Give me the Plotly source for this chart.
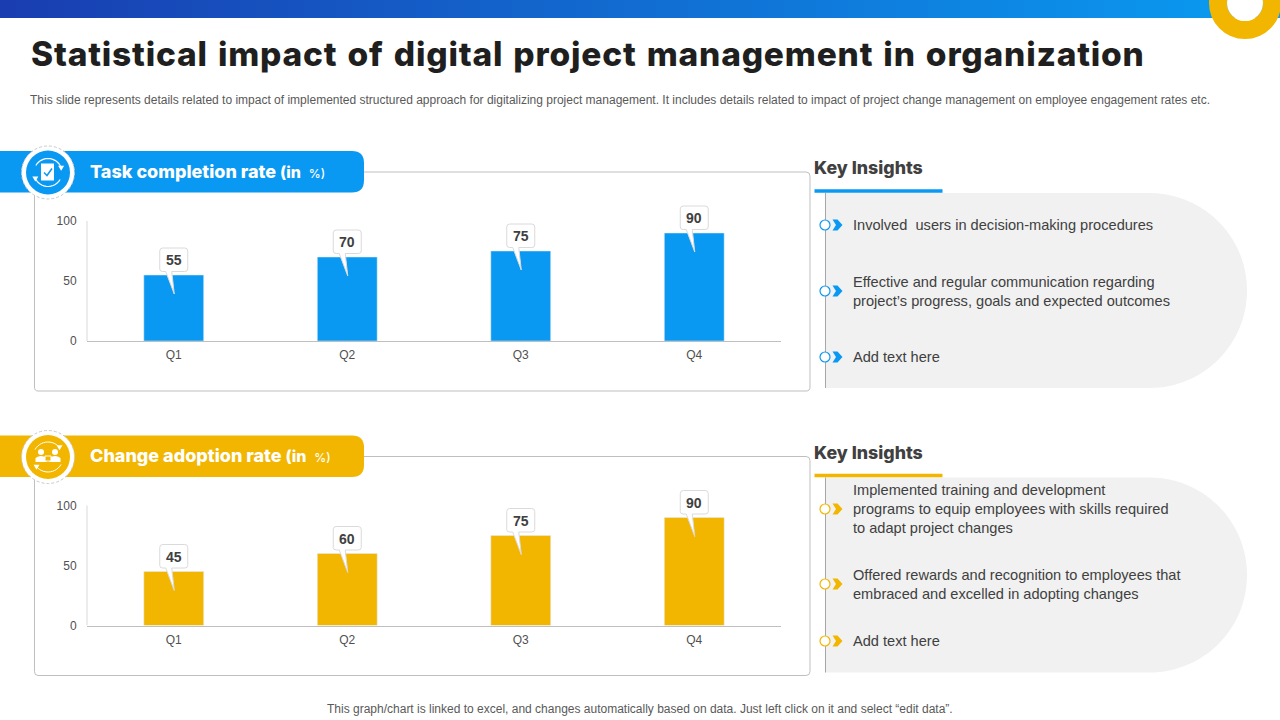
import numpy as np
import plotly.graph_objects as go

W, H = 1280, 720

quarters = ["Q1", "Q2", "Q3", "Q4"]
task_values = [55, 70, 75, 90]
adoption_values = [45, 60, 75, 90]
y_ticks = [0, 50, 100]

title = "Statistical impact of digital project management in organization"
subtitle = ("This slide represents details related to impact of implemented structured approach for digitalizing "
            "project management. It includes details related to impact of project change management on employee "
            "engagement rates etc.")
footer = "This graph/chart is linked to excel, and changes automatically based on data. Just left click on it and select “edit data”."
task_header = "Task completion rate"
adoption_header = "Change adoption rate"
insight_title = "Key Insights"
task_insights = [
    "Involved  users in decision-making procedures",
    "Effective and regular communication regarding<br>project’s progress, goals and expected outcomes",
    "Add text here",
]
adoption_insights = [
    "Implemented training and development<br>programs to equip employees with skills required<br>to adapt project changes",
    "Offered rewards and recognition to employees that<br>embraced and excelled in adopting changes",
    "Add text here",
]

BLUE = "#0A99F2"
GOLD = "#F2B600"
DARK = "#404040"
HEAD_FONT = "Inter"
BODY_FONT = "Liberation Sans"


def X(px):
    return px / W


def Y(py):
    return 1 - py / H


shapes = []
notes = []


def rect(x0, y0, x1, y1, fill, layer="below"):
    shapes.append(dict(type="rect", xref="paper", yref="paper", x0=X(x0), x1=X(x1), y0=Y(y0), y1=Y(y1),
                       fillcolor=fill, line_width=0, layer=layer))


def path(points_d, fill="rgba(0,0,0,0)", line=None, lw=1, layer="below", dash=None):
    out = []
    for p in points_d:
        if isinstance(p, str):
            out.append(p)
        else:
            out.append(f"{X(p[0]):.5f},{Y(p[1]):.5f}")
    ln = dict(color=line or "rgba(0,0,0,0)", width=lw if line else 0)
    if dash:
        ln["dash"] = dash
    shapes.append(dict(type="path", xref="paper", yref="paper", path=" ".join(out), fillcolor=fill,
                       line=ln, layer=layer))


def circle(cx, cy, r, fill="rgba(0,0,0,0)", line=None, lw=1, layer="below", dash=None):
    ln = dict(color=line or "rgba(0,0,0,0)", width=lw if line else 0)
    if dash:
        ln["dash"] = dash
    shapes.append(dict(type="circle", xref="paper", yref="paper", x0=X(cx - r), x1=X(cx + r), y0=Y(cy + r),
                       y1=Y(cy - r), fillcolor=fill, line=ln, layer=layer))


def text(px, py, s, size, color=DARK, font=BODY_FONT, anchor="left", weight=None):
    f = dict(family=font, size=size, color=color)
    if weight:
        f["weight"] = weight
    notes.append(dict(xref="paper", yref="paper", x=X(px), y=Y(py), text=s, showarrow=False, xanchor=anchor,
                      yanchor="middle", align="left", font=f, borderpad=0, borderwidth=0))


def arc(cx, cy, r, a0, a1, color, lw=1.2, n=14):
    t = np.radians(np.linspace(a0, a1, n))
    pts = []
    for i, a in enumerate(t):
        pts += ["M" if i == 0 else "L", (cx + r * np.cos(a), cy - r * np.sin(a))]
    path(pts, line=color, lw=lw, layer="above")
    # arrow head at the end of the arc
    ex, ey = cx + r * np.cos(t[-1]), cy - r * np.sin(t[-1])
    path(["M", (ex - 3, ey - 2), "L", (ex + 3, ey - 2), "L", (ex, ey + 3), "Z"], fill=color, layer="above")


# top banner gradient
n_steps = 80
c0, c1 = np.array([0x1A, 0x3E, 0xB2]), np.array([0x0A, 0x9C, 0xF2])
for i in range(n_steps):
    c = (c0 + (c1 - c0) * i / (n_steps - 1)).astype(int)
    rect(i * W / n_steps, 0, (i + 1) * W / n_steps + 0.5, 18, f"rgb({c[0]},{c[1]},{c[2]})")
circle(1245, 3, 27, line=GOLD, lw=18)
circle(1245, 3, 18, fill="white")

text(31, 54, f"<span style='letter-spacing:0.8px;word-spacing:2px'>{title}</span>", 33.5, color="#1F1F1F",
     font=HEAD_FONT, weight=800)
text(30, 100, subtitle, 12, color="#595959")
text(640, 709, footer, 12, color="#595959", anchor="center")


def section(top, color, header, insights, bullets):
    p_top = top + 21
    p_bot = top + 240
    r = 4
    path(["M", (38, p_top), "L", (806, p_top), "Q", (810, p_top), (810, p_top + r), "L", (810, p_bot - r),
         "Q", (810, p_bot), (806, p_bot), "L", (38, p_bot), "Q", (34.5, p_bot), (34.5, p_bot - r),
         "L", (34.5, p_top + r), "Q", (34.5, p_top), (38, p_top), "Z"], fill="white", line="#BFBFBF", lw=1)
    b = top + 41.5
    path(["M", (0, top), "L", (352, top), "Q", (364, top), (364, top + 12), "L", (364, b - 12),
         "Q", (364, b), (352, b), "L", (0, b), "Z"], fill=color)
    cx, cy = 48, top + 21.5
    circle(cx, cy, 26.5, line="#C9C9C9", lw=1, dash="3px,2px", fill="white")
    circle(cx, cy, 22, fill=color)
    notes.append(dict(xref="paper", yref="paper", x=X(88.5), y=Y(top + 20), showarrow=False, xanchor="left",
                      yanchor="middle", borderpad=0,
                      text=f"{header} <span style='font-size:16px'>(in</span>&nbsp; "
                           f"<span style='font-size:12px;font-weight:500'>%)</span>",
                      font=dict(family=HEAD_FONT, size=18, color="white", weight=800)))
    g_top = top + 42
    g_bot = top + 237
    rad = (g_bot - g_top) / 2
    k = 0.5523 * rad
    path(["M", (825, g_top), "L", (1247 - rad, g_top), "C", (1247 - rad + k, g_top), (1247, g_top + rad - k),
         (1247, g_top + rad), "C", (1247, g_top + rad + k), (1247 - rad + k, g_bot), (1247 - rad, g_bot),
         "L", (825, g_bot), "Z"], fill="#F1F1F1")
    path(["M", (825.5, g_top), "L", (825.5, g_bot)], line="#A6A6A6", lw=1)
    text(814, top + 16.5, insight_title, 17.8, font=HEAD_FONT, weight=800)
    path(["M", (814.5, top + 40), "L", (942.5, top + 40)], line=color, lw=3.5)
    for (s, by) in zip(insights, bullets):
        circle(825, by, 5, fill="white", line=color, lw=1.2)
        path(["M", (832.5, by - 5.5), "L", (837.5, by - 5.5), "L", (842.5, by), "L", (837.5, by + 5.5),
              "L", (832.5, by + 5.5), "L", (836, by), "Z"], fill=color)
        text(853, by, s, 14.6)


section(151, BLUE, task_header, task_insights, [225, 291, 357])
section(435.5, GOLD, adoption_header, adoption_insights, [509, 584, 641])

# small white icons on the two round badges
cx, cy = 48, 172.5
arc(cx, cy, 14, 150, 20, "white")
arc(cx, cy, 14, 330, 205, "white")
path(["M", (41, cy - 9), "L", (54, cy - 9), "L", (54, cy + 8), "L", (41, cy + 8), "Z"], fill="white", layer="above")
path(["M", (44, cy), "L", (47, cy + 3), "L", (52, cy - 4)], line=BLUE, lw=1.5, layer="above")
cx, cy = 48, 457
arc(cx, cy, 15, 150, 40, "white", lw=1)
arc(cx, cy, 15, 330, 220, "white", lw=1)
for dx, r in ((-7, 3), (7, 3)):
    circle(cx + dx, cy - 5, r, fill="white", layer="above")
    path(["M", (cx + dx - 5.5, cy + 5), "L", (cx + dx - 5.5, cy + 1), "Q", (cx + dx, cy - 3), (cx + dx + 5.5, cy + 1),
          "L", (cx + dx + 5.5, cy + 5), "Z"], fill="white", layer="above")
path(["M", (cx - 3, cy - 1), "L", (cx + 3, cy - 1), "L", (cx + 3, cy + 4), "L", (cx - 3, cy + 4), "Z"], fill=GOLD,
     line="white", lw=1, layer="above")

# plot geometry: 1.2 px per unit, headroom keeps callouts from clipping
Y_MAX = 130
PX_PER_UNIT = 1.2


def add_chart(fig, idx, values, color, zero_y):
    top_y = zero_y - Y_MAX * PX_PER_UNIT
    sfx = "" if idx == 1 else str(idx)
    fig.add_bar(x=quarters, y=values, marker_color=color, width=0.345, xaxis=f"x{sfx}", yaxis=f"y{sfx}",
                hoverinfo="skip", showlegend=False)
    axis_font = dict(family=BODY_FONT, size=12, color="#505050")
    fig.update_layout({
        f"xaxis{sfx}": dict(domain=[X(87), X(781)], anchor=f"y{sfx}", showgrid=False, zeroline=False, showline=True,
                            linecolor="#BFBFBF", linewidth=1, ticks="outside", ticklen=3, automargin=False,
                            tickcolor="rgba(0,0,0,0)", tickfont=axis_font, fixedrange=True),
        f"yaxis{sfx}": dict(domain=[Y(zero_y), Y(top_y)], anchor=f"x{sfx}", range=[0, Y_MAX], tickvals=y_ticks,
                            showgrid=False, zeroline=False, showline=False, ticks="outside", ticklen=7,
                            automargin=False, tickcolor="rgba(0,0,0,0)", tickfont=axis_font, fixedrange=True),
    })
    shapes.append(dict(type="line", xref=f"x{sfx} domain", yref=f"y{sfx}", x0=0, x1=0, y0=0, y1=max(y_ticks),
                       line=dict(color="#D9D9D9", width=1), layer="above"))
    for q, v in zip(quarters, values):
        shapes.append(dict(
            type="path", xref=f"x{sfx}", yref=f"y{sfx}", xsizemode="pixel", ysizemode="pixel", xanchor=q, yanchor=v,
            path="M -11,27 L 11,27 Q 14,27 14,24 L 14,6 Q 14,3.5 11,3.5 L -2,3.5 L 0.5,-19 L -8,3.5 L -11,3.5 "
                 "Q -14,3.5 -14,6 L -14,24 Q -14,27 -11,27 Z",
            fillcolor="white", line=dict(color="#DADADA", width=1), layer="above"))
        notes.append(dict(xref=f"x{sfx}", yref=f"y{sfx}", x=q, y=v, yshift=15, text=f"<b>{v}</b>", showarrow=False,
                          font=dict(family=BODY_FONT, size=14, color=DARK), xanchor="center", yanchor="middle"))


fig = go.Figure()
add_chart(fig, 1, task_values, BLUE, 341)
add_chart(fig, 2, adoption_values, GOLD, 625.5)

fig.update_layout(width=W, height=H, margin=dict(l=0, r=0, t=0, b=0, autoexpand=False), paper_bgcolor="white",
                  plot_bgcolor="rgba(0,0,0,0)", shapes=shapes, annotations=notes, bargap=0.65)
fig.write_html("out.html", config=dict(displayModeBar=False),
               post_script="document.body.style.margin='0';document.body.style.overflow='hidden';")
